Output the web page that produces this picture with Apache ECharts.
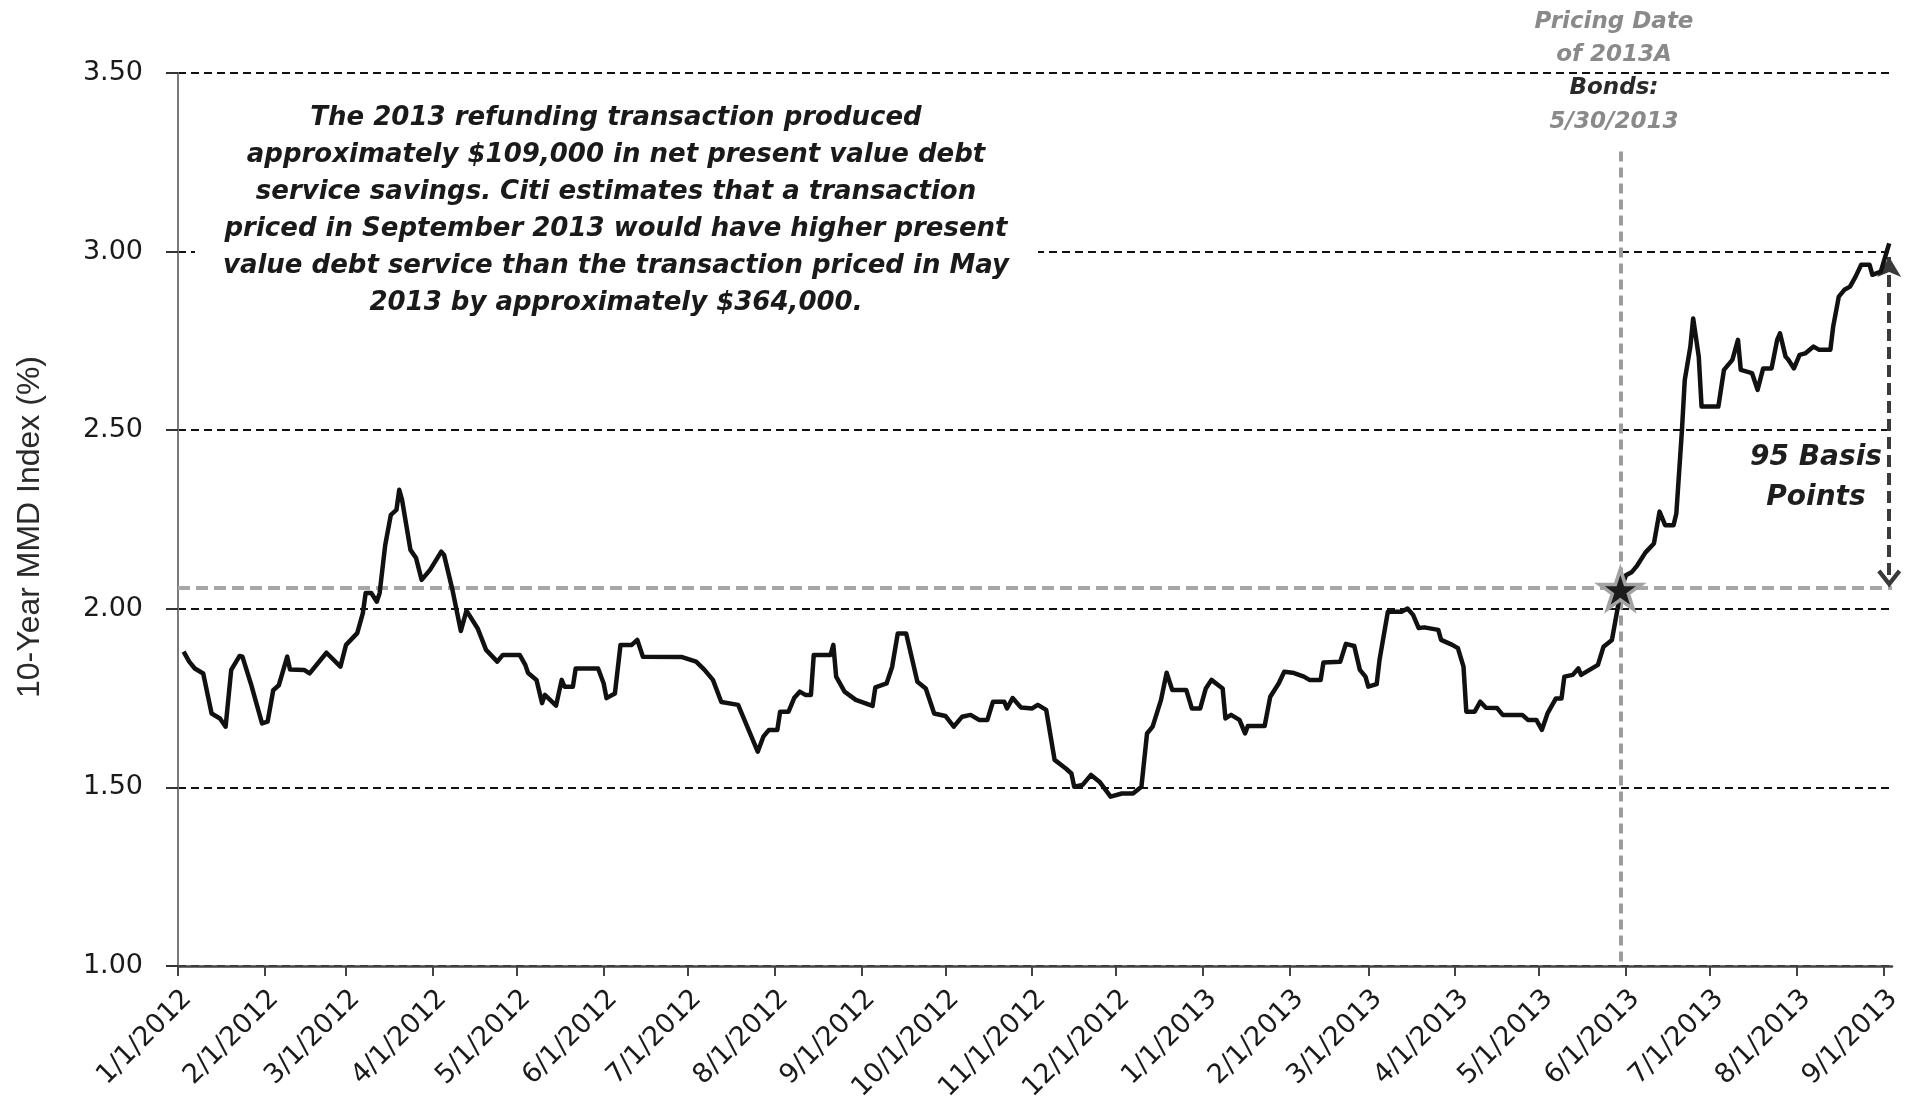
<!DOCTYPE html>
<html><head><meta charset="utf-8">
<script src="https://cdn.jsdelivr.net/npm/echarts@6/dist/echarts.min.js"></script>
<style>html,body{margin:0;padding:0;background:#fff}#c{width:1914px;height:1113px}</style>
</head><body><div id="c"></div>
<script>
// ---- data ----
const axisStart = '2012-01-01';
const axisEnd = '2013-09-04';
const yTickValues = [1.0, 1.5, 2.0, 2.5, 3.0, 3.5];

const dates = [
'2012-01-03','2012-01-05','2012-01-07','2012-01-10','2012-01-13','2012-01-16','2012-01-18','2012-01-20','2012-01-23','2012-01-24','2012-01-27','2012-01-31',
'2012-02-02','2012-02-04','2012-02-06','2012-02-09','2012-02-10','2012-02-15','2012-02-17','2012-02-23','2012-02-28',
'2012-03-01','2012-03-05','2012-03-07','2012-03-08','2012-03-10','2012-03-12','2012-03-13','2012-03-15','2012-03-17','2012-03-19','2012-03-20','2012-03-21','2012-03-24','2012-03-26','2012-03-28','2012-03-31',
'2012-04-04','2012-04-05','2012-04-08','2012-04-11','2012-04-13','2012-04-17','2012-04-20','2012-04-24','2012-04-26',
'2012-05-02','2012-05-04','2012-05-05','2012-05-08','2012-05-10','2012-05-11','2012-05-15','2012-05-17','2012-05-18','2012-05-21','2012-05-22','2012-05-30',
'2012-06-01','2012-06-02','2012-06-05','2012-06-07','2012-06-11','2012-06-13','2012-06-15','2012-06-29',
'2012-07-04','2012-07-07','2012-07-10','2012-07-13','2012-07-19','2012-07-26','2012-07-28','2012-07-30',
'2012-08-02','2012-08-03','2012-08-06','2012-08-08','2012-08-10','2012-08-12','2012-08-14','2012-08-15','2012-08-21','2012-08-22','2012-08-23','2012-08-26','2012-08-30',
'2012-09-05','2012-09-06','2012-09-10','2012-09-12','2012-09-14','2012-09-17','2012-09-21','2012-09-24','2012-09-27',
'2012-10-01','2012-10-04','2012-10-07','2012-10-10','2012-10-13','2012-10-16','2012-10-18','2012-10-22','2012-10-23','2012-10-25','2012-10-28',
'2012-11-01','2012-11-03','2012-11-06','2012-11-09','2012-11-13','2012-11-15','2012-11-16','2012-11-19','2012-11-22','2012-11-25','2012-11-29',
'2012-12-03','2012-12-07','2012-12-10','2012-12-12','2012-12-14','2012-12-17','2012-12-19','2012-12-21','2012-12-26','2012-12-28','2012-12-31',
'2013-01-02','2013-01-04','2013-01-08','2013-01-09','2013-01-11','2013-01-14','2013-01-16','2013-01-17','2013-01-23','2013-01-25','2013-01-28','2013-01-30',
'2013-02-02','2013-02-06','2013-02-08','2013-02-12','2013-02-13','2013-02-19','2013-02-21','2013-02-24','2013-02-26','2013-02-28',
'2013-03-01','2013-03-04','2013-03-05','2013-03-08','2013-03-13','2013-03-15','2013-03-17','2013-03-19','2013-03-21','2013-03-26','2013-03-27','2013-03-31',
'2013-04-02','2013-04-04','2013-04-05','2013-04-08','2013-04-10','2013-04-12','2013-04-16','2013-04-18','2013-04-25','2013-04-27','2013-04-30',
'2013-05-02','2013-05-04','2013-05-07','2013-05-09','2013-05-10','2013-05-13','2013-05-15','2013-05-16','2013-05-19','2013-05-22','2013-05-24','2013-05-27','2013-05-29','2013-05-30',
'2013-06-01','2013-06-03','2013-06-05','2013-06-08','2013-06-11','2013-06-13','2013-06-15','2013-06-18','2013-06-19','2013-06-21','2013-06-22','2013-06-24','2013-06-25','2013-06-27','2013-06-28',
'2013-07-04','2013-07-06','2013-07-09','2013-07-11','2013-07-12','2013-07-16','2013-07-18','2013-07-20','2013-07-23','2013-07-25','2013-07-26','2013-07-28','2013-07-29','2013-07-31',
'2013-08-02','2013-08-04','2013-08-07','2013-08-09','2013-08-13','2013-08-14','2013-08-16','2013-08-18','2013-08-20','2013-08-22','2013-08-24','2013-08-27','2013-08-28','2013-08-31',
'2013-09-03'
];

const mmd = [
1.88,1.852,1.833,1.819,1.707,1.693,1.670,1.829,1.868,1.866,1.791,1.679,
1.684,1.772,1.786,1.866,1.830,1.829,1.819,1.877,1.838,
1.899,1.932,1.988,2.044,2.044,2.020,2.044,2.179,2.263,2.277,2.333,2.305,2.165,2.142,2.081,2.109,
2.160,2.151,2.053,1.938,1.995,1.945,1.885,1.852,1.871,
1.871,1.843,1.820,1.801,1.736,1.759,1.729,1.801,1.782,1.782,1.833,1.833,
1.791,1.750,1.763,1.899,1.899,1.913,1.866,1.865,
1.852,1.829,1.801,1.739,1.731,1.600,1.642,1.661,
1.661,1.712,1.712,1.750,1.768,1.759,1.759,1.871,1.871,1.899,1.810,1.768,1.745,
1.728,1.780,1.791,1.838,1.931,1.931,1.796,1.777,1.707,
1.700,1.670,1.698,1.703,1.689,1.689,1.740,1.740,1.721,1.750,1.724,
1.721,1.731,1.717,1.577,1.553,1.539,1.502,1.507,1.535,1.516,1.474,
1.483,1.483,1.502,1.651,1.670,1.745,1.821,1.773,1.773,1.721,1.721,
1.777,1.801,1.777,1.693,1.703,1.689,1.651,1.672,1.672,1.754,1.791,1.824,
1.821,1.810,1.801,1.801,1.850,1.852,1.902,1.896,1.829,1.810,
1.782,1.789,1.856,1.992,1.992,2.001,1.983,1.946,1.948,1.941,1.913,1.899,
1.890,1.838,1.712,1.712,1.740,1.723,1.722,1.703,1.703,1.689,1.689,
1.661,1.707,1.749,1.749,1.810,1.815,1.833,1.815,1.829,1.843,1.894,1.913,2.000,2.050,
2.094,2.102,2.121,2.158,2.183,2.272,2.234,2.234,2.267,2.500,2.640,2.734,2.813,2.706,2.566,
2.566,2.669,2.697,2.753,2.669,2.660,2.613,2.673,2.673,2.753,2.771,2.706,2.697,2.673,
2.711,2.715,2.734,2.725,2.725,2.790,2.874,2.893,2.902,2.930,2.963,2.963,2.935,2.944,
3.023
];

const pricingDate = '2013-05-30';
const pricingValue = 2.055;
const pricingLineTop = 3.28;
const referenceLevel = 2.06;
const arrowDate = '2013-09-03';
const arrowTop = 2.985;
const arrowBottom = 2.085;

const noteText = 'The 2013 refunding transaction produced\napproximately $109,000 in net present value debt\nservice savings. Citi estimates that a transaction\npriced in September 2013 would have higher present\nvalue debt service than the transaction priced in May\n2013 by approximately $364,000.';

// ---- helpers ----
const DAY = 864e5;
function utc(s){const p=s.split('-').map(Number);return Date.UTC(p[0],p[1]-1,p[2]);}
const t0 = utc(axisStart);
function idx(s){return Math.round((utc(s)-t0)/DAY);}
function fmt(t){const d=new Date(t);return (d.getUTCMonth()+1)+'/'+d.getUTCDate()+'/'+d.getUTCFullYear();}
const categories=[];
for(let t=t0;t<=utc(axisEnd);t+=DAY)categories.push(fmt(t));
const lineData = dates.map((s,i)=>[idx(s), mmd[i]]);
const monthStart = (i, v) => String(v).split('/')[1] === '1';

const starPath = 'path://M50,2 L61.8,38 L99.5,38 L69,60 L80.5,96 L50,74 L19.5,96 L31,60 L0.5,38 L38.2,38 Z';
const chevronPath = 'path://M50,0 L100,78 L86,92 L50,36 L14,92 L0,78 Z';

const chart = echarts.init(document.getElementById('c'));
chart.setOption({
  animation: false,
  backgroundColor: '#ffffff',
  grid: {left: 178, right: 22, top: 73, bottom: 147, containLabel: false, outerBoundsMode: 'none'},
  xAxis: {
    type: 'category',
    data: categories,
    boundaryGap: false,
    axisLine: {show: true, lineStyle: {color: '#444', width: 2.5}},
    axisTick: {show: true, interval: monthStart, length: 10, lineStyle: {color: '#444', width: 2}},
    axisLabel: {interval: monthStart, rotate: 45, margin: 19, verticalAlign: 'top', color: '#1a1a1a',
      fontFamily: 'DejaVu Sans', fontSize: 27},
    splitLine: {show: false}
  },
  yAxis: {
    type: 'value', min: yTickValues[0], max: yTickValues[yTickValues.length-1], interval: 0.5,
    axisLine: {show: true, lineStyle: {color: '#7a7a7a', width: 2}},
    axisTick: {show: true, length: 12, lineStyle: {color: '#333', width: 2}},
    axisLabel: {margin: 35, color: '#1a1a1a', fontFamily: 'DejaVu Sans', fontSize: 27,
      formatter: v => v.toFixed(2)},
    splitLine: {show: true, lineStyle: {color: '#111', width: 2, type: [8, 5]}}
  },
  series: [{
    type: 'line',
    data: lineData,
    z: 3,
    showSymbol: false,
    symbol: 'none',
    silent: true,
    lineStyle: {color: '#111', width: 4.5, join: 'round'},
    markLine: {
      silent: true, z: 1, symbol: 'none', animation: false,
      label: {show: false},
      data: [
        {yAxis: referenceLevel, lineStyle: {color: '#a6a6a6', width: 4, type: [12, 6]}},
        [{coord: [idx(pricingDate), pricingLineTop], lineStyle: {color: '#9c9c9c', width: 4, type: [10, 6]}},
         {coord: [idx(pricingDate), yTickValues[0]]}],
        [{coord: [idx(arrowDate), arrowTop], symbol: 'arrow', symbolSize: [18, 20],
          lineStyle: {color: '#3a3a3a', width: 4, type: [12, 6]}},
         {coord: [idx(arrowDate), arrowBottom], symbol: chevronPath, symbolSize: [24, 18]}]
      ]
    },
    markPoint: {
      silent: true, z: 10, animation: false,
      symbol: starPath, symbolSize: [42, 40],
      itemStyle: {color: '#1c1c1c', borderColor: '#a3a3a3', borderWidth: 3.5},
      label: {show: false},
      data: [{coord: [idx(pricingDate), pricingValue]}]
    }
  }],
  graphic: [
    {type: 'rect', z: 50, silent: true, shape: {x: 195, y: 90, width: 843, height: 242}, style: {fill: '#ffffff'}},
    {type: 'text', z: 51, silent: true, style: {text: noteText, x: 616, y: 100, textAlign: 'center', textVerticalAlign: 'top',
      lineHeight: 37, fill: '#1a1a1a', font: 'italic bold 26px "DejaVu Sans"'}},
    {type: 'text', z: 51, silent: true, style: {text: 'Pricing Date', x: 1614, y: 22, textAlign: 'center', textVerticalAlign: 'middle',
      fill: '#8a8a8a', font: 'italic bold 23px "DejaVu Sans"'}},
    {type: 'text', z: 51, silent: true, style: {text: 'of 2013A', x: 1614, y: 55, textAlign: 'center', textVerticalAlign: 'middle',
      fill: '#8a8a8a', font: 'italic bold 23px "DejaVu Sans"'}},
    {type: 'text', z: 51, silent: true, style: {text: 'Bonds:', x: 1614, y: 88, textAlign: 'center', textVerticalAlign: 'middle',
      fill: '#2a2a2a', font: 'italic bold 23px "DejaVu Sans"'}},
    {type: 'text', z: 51, silent: true, style: {text: '5/30/2013', x: 1614, y: 122, textAlign: 'center', textVerticalAlign: 'middle',
      fill: '#8a8a8a', font: 'italic bold 23px "DejaVu Sans"'}},
    {type: 'text', z: 51, silent: true, style: {text: '95 Basis\nPoints', x: 1816, y: 478, textAlign: 'center', textVerticalAlign: 'middle',
      lineHeight: 40, fill: '#1e1e1e', font: 'italic bold 28px "DejaVu Sans"'}},
    {type: 'text', z: 51, silent: true, x: 30, y: 527, rotation: Math.PI / 2,
      style: {text: '10-Year MMD Index (%)', x: 0, y: 0, textAlign: 'center', textVerticalAlign: 'middle',
      fill: '#2a2a2a', font: '32px "Liberation Sans"'}}
  ]
});
</script>
</body></html>
